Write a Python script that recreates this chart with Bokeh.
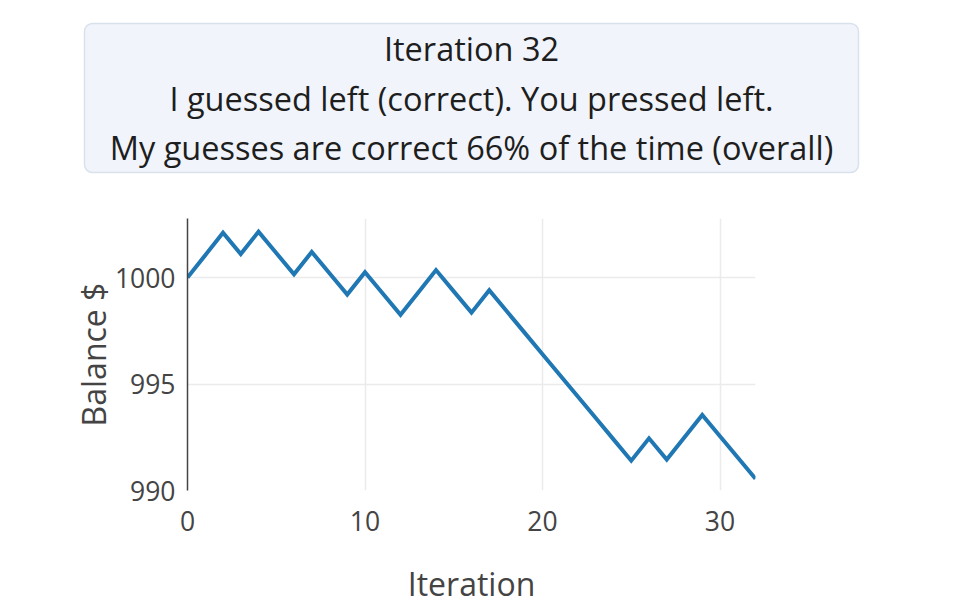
from bokeh.plotting import figure
from bokeh.models import Range1d, BoxAnnotation, FixedTicker, ColumnDataSource
from bokeh.layouts import column, row
from bokeh.core.properties import value
from bokeh.embed import file_html
from bokeh.resources import INLINE

# ---- data ----
iterations = list(range(33))
balance = [1000.00, 1001.05, 1002.10, 1001.10, 1002.15, 1001.15, 1000.15, 1001.20,
           1000.20, 999.20, 1000.25, 999.25, 998.25, 999.30, 1000.35, 999.35,
           998.35, 999.40, 998.40, 997.40, 996.40, 995.40, 994.40, 993.40,
           992.40, 991.40, 992.45, 991.45, 992.50, 993.55, 992.55, 991.55, 990.55]
x_ticks = [0, 10, 20, 30]
y_ticks = [990, 995, 1000]
header_lines = ["Iteration 32",
                "I guessed left (correct). You pressed left.",
                "My guesses are correct 66% of the time (overall)"]

FONT = "Open Sans"
W, HH, HM = 960, 200, 410

# ---- header (its own figure, pixel-like coordinates) ----
h = figure(width=W, height=HH, x_range=Range1d(0, W), y_range=Range1d(HH, 0),
           output_backend="svg", toolbar_location=None, min_border=0)
h.axis.visible = False
h.grid.visible = False
h.outline_line_color = None
h.add_layout(BoxAnnotation(left=84, right=858, top=23, bottom=172,
                           fill_color="#f1f5fb", fill_alpha=1.0,
                           line_color="#d9e1ec", line_width=1.5, line_alpha=1.0,
                           border_radius=8, level="underlay"))
hsrc = ColumnDataSource(dict(x=[471, 471, 471], y=[48, 98, 147], t=header_lines))
h.text(x="x", y="y", text="t", source=hsrc, text_font=value(FONT),
       text_font_size="32.5px", text_color="#1e1e1e",
       text_align="center", text_baseline="middle")

# ---- main chart ----
p = figure(width=W, height=HM, x_range=Range1d(0, 32), y_range=Range1d(990.0, 1002.77),
           output_backend="svg", toolbar_location=None,
           min_border_left=187, min_border_right=205, min_border_top=18, min_border_bottom=120)
p.outline_line_color = None
p.line(iterations, balance, line_color="#1f77b4", line_width=4, line_join="miter")

p.xaxis.ticker = FixedTicker(ticks=x_ticks)
p.yaxis.ticker = FixedTicker(ticks=y_ticks)
p.xgrid.ticker = FixedTicker(ticks=[10, 20, 30])
p.ygrid.ticker = FixedTicker(ticks=[995, 1000])
p.grid.grid_line_color = "#ebebeb"
p.grid.grid_line_width = 1.5

for ax in (p.xaxis, p.yaxis):
    ax.major_tick_line_color = None
    ax.minor_tick_line_color = None
    ax.major_label_text_font = FONT
    ax.major_label_text_font_size = "26.5px"
    ax.major_label_text_color = "#444444"
    ax.axis_label_text_font = FONT
    ax.axis_label_text_font_size = "32px"
    ax.axis_label_text_font_style = "normal"
    ax.axis_label_text_color = "#444444"

p.xaxis.axis_line_color = None
p.yaxis.axis_line_color = "#444444"
p.yaxis.axis_line_width = 1.5
p.xaxis.axis_label = "Iteration"
p.yaxis.axis_label = "Balance $"
p.xaxis.major_label_standoff = 14
p.yaxis.major_label_standoff = 6
p.xaxis.axis_label_standoff = 28
p.yaxis.axis_label_standoff = -3

layout = column(h, row(p))
open("out.html", "w").write(file_html(layout, INLINE))
